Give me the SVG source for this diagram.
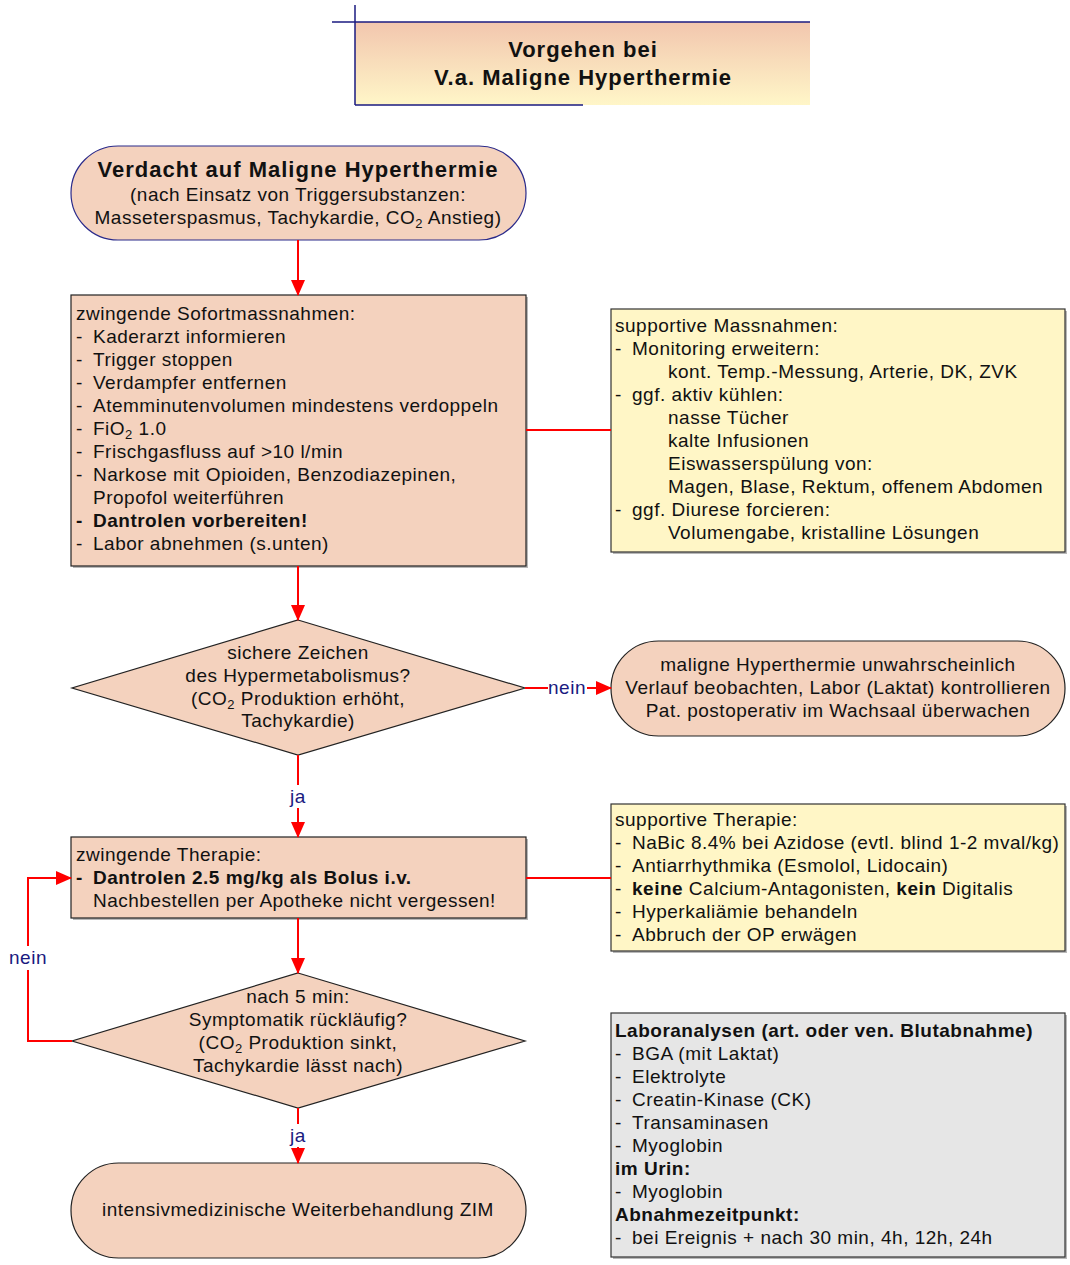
<svg xmlns="http://www.w3.org/2000/svg" width="1070" height="1265" viewBox="0 0 1070 1265">
<defs>
<linearGradient id="tg" x1="0" y1="0" x2="0" y2="1">
<stop offset="0" stop-color="#F2C6AE"/>
<stop offset="1" stop-color="#FFF6C8"/>
</linearGradient>
<marker id="ahb" markerWidth="16" markerHeight="16" refX="15" refY="8" orient="auto" markerUnits="userSpaceOnUse" viewBox="0 0 16 16">
<path d="M0,1 L16,8 L0,15 z" fill="#FF0000"/>
</marker>
</defs>
<style>
text{font-family:"Liberation Sans",Arial,sans-serif;font-size:19px;letter-spacing:0.5px;fill:#111;}
.b{font-weight:bold;}
.c{text-anchor:middle;}
.h{font-size:22px;letter-spacing:1px;font-weight:bold;}
.lbl{fill:#1A1A80;}
.node{fill:#F4D2BE;stroke:#222;stroke-width:1.2;}
.yel{fill:#FFF6C6;stroke:#333;stroke-width:1.2;}
.gry{fill:#E6E6E6;stroke:#333;stroke-width:1.2;}
.sh{fill:#888;opacity:0.6;}
.con{stroke:#FF0000;stroke-width:2;fill:none;}
</style>

<g id="title">
<rect x="355" y="22" width="455" height="83" fill="url(#tg)"/>
<line x1="332" y1="22" x2="810" y2="22" stroke="#1A1A80" stroke-width="1.5"/>
<line x1="355" y1="5" x2="355" y2="105" stroke="#1A1A80" stroke-width="1.5"/>
<line x1="355" y1="105" x2="583" y2="105" stroke="#1A1A80" stroke-width="1.5"/>
<text class="h c" x="583" y="57">Vorgehen bei</text>
<text class="h c" x="583" y="85">V.a. Maligne Hyperthermie</text>
</g>

<g id="start">
<rect x="71" y="146" width="455" height="94" rx="47" ry="47" fill="#F4D2BE" stroke="#2A2A8A" stroke-width="1.2"/>
<text class="h c" x="298" y="177">Verdacht auf Maligne Hyperthermie</text>
<text class="c" x="298" y="201">(nach Einsatz von Triggersubstanzen:</text>
<text class="c" x="298" y="224">Masseterspasmus, Tachykardie, CO<tspan font-size="13" dy="4">2</tspan><tspan dy="-4"> Anstieg)</tspan></text>
</g>

<g id="sofort">
<rect class="sh" x="73" y="297" width="455" height="271"/>
<rect class="node" x="71" y="295" width="455" height="271"/>
<text x="76" y="320">zwingende Sofortmassnahmen:</text>
<text x="76" y="343">-</text><text x="93" y="343">Kaderarzt informieren</text>
<text x="76" y="366">-</text><text x="93" y="366">Trigger stoppen</text>
<text x="76" y="389">-</text><text x="93" y="389">Verdampfer entfernen</text>
<text x="76" y="412">-</text><text x="93" y="412">Atemminutenvolumen mindestens verdoppeln</text>
<text x="76" y="435">-</text><text x="93" y="435">FiO<tspan font-size="13" dy="4">2</tspan><tspan dy="-4"> 1.0</tspan></text>
<text x="76" y="458">-</text><text x="93" y="458">Frischgasfluss auf &gt;10 l/min</text>
<text x="76" y="481">-</text><text x="93" y="481">Narkose mit Opioiden, Benzodiazepinen,</text>
<text x="93" y="504">Propofol weiterführen</text>
<text x="76" y="527" class="b">-</text><text x="93" y="527" class="b">Dantrolen vorbereiten!</text>
<text x="76" y="550">-</text><text x="93" y="550">Labor abnehmen (s.unten)</text>
</g>

<g id="supportMass">
<rect class="sh" x="613" y="311" width="454" height="243"/>
<rect class="yel" x="611" y="309" width="454" height="243"/>
<text x="615" y="332">supportive Massnahmen:</text>
<text x="615" y="355">-</text><text x="632" y="355">Monitoring erweitern:</text>
<text x="668" y="378">kont. Temp.-Messung, Arterie, DK, ZVK</text>
<text x="615" y="401">-</text><text x="632" y="401">ggf. aktiv kühlen:</text>
<text x="668" y="424">nasse Tücher</text>
<text x="668" y="447">kalte Infusionen</text>
<text x="668" y="470">Eiswasserspülung von:</text>
<text x="668" y="493">Magen, Blase, Rektum, offenem Abdomen</text>
<text x="615" y="516">-</text><text x="632" y="516">ggf. Diurese forcieren:</text>
<text x="668" y="539">Volumengabe, kristalline Lösungen</text>
</g>

<g id="decision1">
<polygon class="node" points="298,620 525,688 298,755 72,688"/>
<text class="c" x="298" y="659">sichere Zeichen</text>
<text class="c" x="298" y="682">des Hypermetabolismus?</text>
<text class="c" x="298" y="705">(CO<tspan font-size="13" dy="4">2</tspan><tspan dy="-4"> Produktion erhöht,</tspan></text>
<text class="c" x="298" y="727">Tachykardie)</text>
</g>

<g id="unwahrscheinlich">
<rect class="node" x="611" y="641" width="454" height="95" rx="47.5" ry="47.5"/>
<text class="c" x="838" y="671">maligne Hyperthermie unwahrscheinlich</text>
<text class="c" x="838" y="694">Verlauf beobachten, Labor (Laktat) kontrollieren</text>
<text class="c" x="838" y="717">Pat. postoperativ im Wachsaal überwachen</text>
</g>

<g id="therapie">
<rect class="sh" x="73" y="839" width="455" height="81"/>
<rect class="node" x="71" y="837" width="455" height="81"/>
<text x="76" y="861">zwingende Therapie:</text>
<text x="76" y="884" class="b">-</text><text x="93" y="884" class="b">Dantrolen 2.5 mg/kg als Bolus i.v.</text>
<text x="93" y="907">Nachbestellen per Apotheke nicht vergessen!</text>
</g>

<g id="supportTher">
<rect class="sh" x="613" y="806" width="454" height="147"/>
<rect class="yel" x="611" y="804" width="454" height="147"/>
<text x="615" y="826">supportive Therapie:</text>
<text x="615" y="849">-</text><text x="632" y="849">NaBic 8.4% bei Azidose (evtl. blind 1-2 mval/kg)</text>
<text x="615" y="872">-</text><text x="632" y="872">Antiarrhythmika (Esmolol, Lidocain)</text>
<text x="615" y="895">-</text><text x="632" y="895"><tspan class="b">keine</tspan> Calcium-Antagonisten, <tspan class="b">kein</tspan> Digitalis</text>
<text x="615" y="918">-</text><text x="632" y="918">Hyperkaliämie behandeln</text>
<text x="615" y="941">-</text><text x="632" y="941">Abbruch der OP erwägen</text>
</g>

<g id="decision2">
<polygon class="node" points="298,973 525,1041 298,1108 72,1041"/>
<text class="c" x="298" y="1003">nach 5 min:</text>
<text class="c" x="298" y="1026">Symptomatik rückläufig?</text>
<text class="c" x="298" y="1049">(CO<tspan font-size="13" dy="4">2</tspan><tspan dy="-4"> Produktion sinkt,</tspan></text>
<text class="c" x="298" y="1072">Tachykardie lässt nach)</text>
</g>

<g id="labor">
<rect class="sh" x="613" y="1015" width="454" height="244"/>
<rect class="gry" x="611" y="1013" width="454" height="244"/>
<text x="615" y="1037" class="b">Laboranalysen (art. oder ven. Blutabnahme)</text>
<text x="615" y="1060">-</text><text x="632" y="1060">BGA (mit Laktat)</text>
<text x="615" y="1083">-</text><text x="632" y="1083">Elektrolyte</text>
<text x="615" y="1106">-</text><text x="632" y="1106">Creatin-Kinase (CK)</text>
<text x="615" y="1129">-</text><text x="632" y="1129">Transaminasen</text>
<text x="615" y="1152">-</text><text x="632" y="1152">Myoglobin</text>
<text x="615" y="1175" class="b">im Urin:</text>
<text x="615" y="1198">-</text><text x="632" y="1198">Myoglobin</text>
<text x="615" y="1221" class="b">Abnahmezeitpunkt:</text>
<text x="615" y="1244">-</text><text x="632" y="1244">bei Ereignis + nach 30 min, 4h, 12h, 24h</text>
</g>

<g id="end">
<rect class="node" x="71" y="1163" width="455" height="95" rx="47.5" ry="47.5"/>
<text class="c" x="298" y="1216">intensivmedizinische Weiterbehandlung ZIM</text>
</g>

<g id="connectors">
<line class="con" x1="298" y1="240" x2="298" y2="295" marker-end="url(#ahb)"/>
<line class="con" x1="526" y1="430" x2="611" y2="430"/>
<line class="con" x1="298" y1="566" x2="298" y2="620" marker-end="url(#ahb)"/>
<line class="con" x1="525" y1="688" x2="548" y2="688"/>
<line class="con" x1="587" y1="688" x2="611" y2="688" marker-end="url(#ahb)"/>
<text class="lbl c" x="567" y="694">nein</text>
<line class="con" x1="298" y1="755" x2="298" y2="785"/>
<line class="con" x1="298" y1="808" x2="298" y2="837" marker-end="url(#ahb)"/>
<text class="lbl c" x="298" y="803">ja</text>
<line class="con" x1="526" y1="878" x2="611" y2="878"/>
<line class="con" x1="298" y1="918" x2="298" y2="973" marker-end="url(#ahb)"/>
<polyline class="con" points="72,1041 28,1041 28,970"/>
<polyline class="con" points="28,946 28,878 71,878" marker-end="url(#ahb)"/>
<text class="lbl c" x="28" y="964">nein</text>
<line class="con" x1="298" y1="1108" x2="298" y2="1124"/>
<line class="con" x1="298" y1="1147" x2="298" y2="1163" marker-end="url(#ahb)"/>
<text class="lbl c" x="298" y="1142">ja</text>
</g>
</svg>
